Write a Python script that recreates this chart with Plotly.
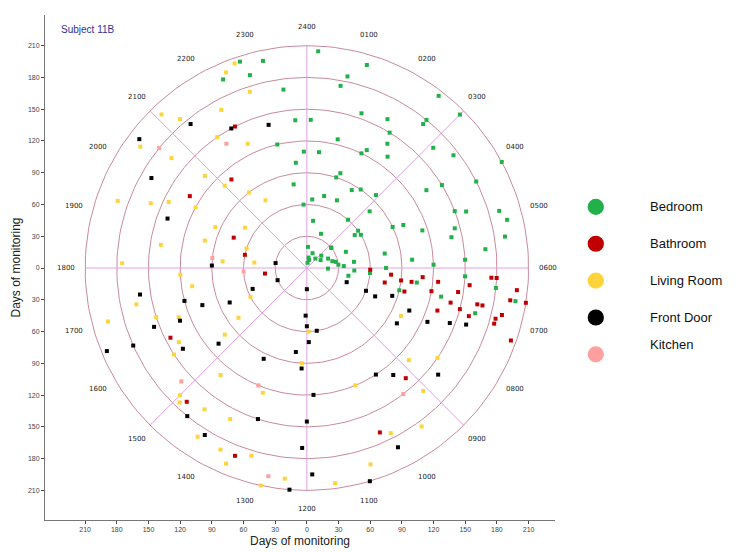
import numpy as np
import plotly.graph_objects as go

# activity readings: hour of day (0-24) and day of monitoring (radius)
bed_hour = [0.2,0.5,0.9,1.3,1.7,2.1,2.6,3.0,3.4,3.9,4.3,4.8,5.2,5.6,0.4,1.1,1.9,2.4,3.2,3.7,4.5,5.0,5.4,5.8,
            0.3,0.8,1.5,2.2,2.9,3.5,4.1,4.7,5.3,5.9,0.6,1.2,1.8,2.7,3.3,4.0,4.6,5.1,5.7,0.1,0.7,1.4,2.0,2.5,
            3.1,3.8,4.4,4.9,5.5,6.1,6.3,6.5,6.2,6.4,6.6,6.8,7.0,6.9,6.7,23.5,23.7,23.2,23.9,22.9,23.4,23.8,
            0.9,1.6,2.3,3.6,4.2,5.0,5.6,0.5,1.0,2.8,3.3,4.4,5.2,5.8,6.0,6.2,0.2,1.3,2.6,3.9,22.4,22.8,23.1,23.6]
bed_day = [20,45,70,95,120,150,180,205,30,60,90,115,140,170,110,200,160,130,80,55,40,25,190,150,
           65,185,35,140,95,175,210,160,75,120,10,90,125,60,30,15,150,195,100,140,175,15,85,205,
           165,135,100,190,45,20,60,105,150,180,200,130,165,90,40,170,140,200,110,190,80,60,
           125,70,90,60,180,145,30,5,8,12,18,22,28,35,75,45,205,155,175,150,195,205,120,100]
bath_hour = [6.1,6.3,6.5,6.7,6.9,7.1,6.2,6.4,6.6,6.8,7.0,7.2,6.3,6.5,6.7,6.9,6.4,6.6,6.8,7.0,7.3,6.2,6.6,
             7.1,6.9,6.4,20.1,19.5,18.8,21.3,16.2,14.8,13.4,17.5,22.2,9.2,10.4]
bath_day = [60,80,100,120,140,160,180,200,195,170,150,130,110,90,75,95,125,145,165,185,205,175,210,
            185,190,155,130,75,60,110,145,170,190,40,150,140,170]
living_hour = [22.5,22.1,21.7,21.3,20.8,20.4,19.9,19.5,19.0,18.6,22.8,21.5,20.2,19.2,18.3,17.4,16.6,15.8,
               15.0,14.2,13.5,12.8,22.3,21.0,19.7,18.1,17.0,16.2,15.4,14.6,13.8,13.1,12.4,21.9,20.6,19.3,
               17.8,16.8,15.6,14.4,13.3,12.2,22.7,21.1,19.6,18.4,17.2,16.0,14.9,13.7,8.3,9.1,10.2,10.8,
               11.5,9.6,8.8,10.5,11.9,7.8]
living_day = [200,170,150,185,130,195,120,160,100,140,175,90,70,60,80,110,130,150,170,190,200,210,130,
              110,145,175,195,60,100,130,160,185,200,75,165,190,120,150,80,165,125,90,205,200,95,50,
              165,140,175,190,150,160,175,195,205,185,130,120,60,100]
door_hour = [12.0,12.1,11.9,12.2,11.8,12.0,12.1,11.9,12.3,12.0,16.5,16.6,16.4,16.7,16.5,16.6,16.4,16.5,
             7.3,7.4,7.2,7.5,7.6,7.4,7.3,7.5,13.2,14.1,15.3,17.4,18.1,19.3,20.5,21.4,8.6,9.4,10.2,10.9,
             14.6,15.8,13.7,17.0,12.5,11.4,9.8,8.1,18.6,20.0,22.1,23.0]
door_day = [20,45,70,95,120,145,170,195,210,55,30,55,80,105,130,155,180,205,40,60,85,105,125,145,160,
            70,150,185,110,160,90,140,200,175,160,130,190,210,180,140,95,120,80,60,120,100,30,170,150,140]
kit_hour = [13.5,15.2,18.4,20.6,12.7,9.5,17.8,21.8]
kit_day = [120,160,90,180,200,150,60,140]

rooms = ["Bedroom", "Bathroom", "Living Room", "Front Door", "Kitchen"]
colors = ["#22b04b", "#c00000", "#ffd43b", "#000000", "#ff9f9f"]
hours = [bed_hour, bath_hour, living_hour, door_hour, kit_hour]
days = [bed_day, bath_day, living_day, door_day, kit_day]

ring_days = [30, 60, 90, 120, 150, 180, 210]
spoke_hours = [0, 3, 6, 9, 12, 15, 18, 21]
hour_labels = ["2400","0100","0200","0300","0400","0500","0600","0700","0800","0900","1000","1100",
               "1200","1300","1400","1500","1600","1700","1800","1900","2000","2100","2200","2300"]
tick_vals = [-210, -180, -150, -120, -90, -60, -30, 0, 30, 60, 90, 120, 150, 180, 210]

fig = go.Figure()

# rings and spokes of the polar grid
t = np.linspace(0, 2 * np.pi, 200)
for r in ring_days:
    fig.add_trace(go.Scatter(x=r * np.sin(t), y=r * np.cos(t), mode="lines",
                             line=dict(color="#c98a9a", width=1), hoverinfo="skip", showlegend=False))
for h in spoke_hours:
    a = h / 24 * 2 * np.pi
    fig.add_trace(go.Scatter(x=[0, 210 * np.sin(a)], y=[0, 210 * np.cos(a)], mode="lines",
                             line=dict(color="#e0a0e0", width=1), hoverinfo="skip", showlegend=False))

for name, c, hh, dd in zip(rooms, colors, hours, days):
    a = np.array(hh) / 24 * 2 * np.pi
    d = np.array(dd)
    fig.add_trace(go.Scatter(x=d * np.sin(a), y=d * np.cos(a), mode="markers", name=name,
                             marker=dict(color=c, size=4, symbol="square"), showlegend=False))

for i, lab in enumerate(hour_labels):
    a = i / 24 * 2 * np.pi
    fig.add_annotation(x=228 * np.sin(a), y=228 * np.cos(a), text=lab, showarrow=False,
                       font=dict(size=7, color="#222", family="DejaVu Sans"))

fig.add_annotation(x=-235, y=225, text="Subject 11B", showarrow=False, xanchor="left",
                   font=dict(size=10, color="#3030a0", family="Arial"))

# legend on the right (paper coords, outside the plot area)
for i, (name, c) in enumerate(zip(rooms, colors)):
    yy = 0.620 - i * 0.073
    fig.add_shape(type="circle", xref="paper", yref="paper", x0=1.064, x1=1.096,
                  y0=yy - 0.016, y1=yy + 0.016, fillcolor=c, line=dict(width=0))
    fig.add_annotation(xref="paper", yref="paper", x=1.182, y=yy, text=name, showarrow=False,
                       xanchor="left", font=dict(size=13, color="#111", family="Liberation Sans"))

axis_style = dict(tickvals=tick_vals, ticktext=[str(abs(v)) for v in tick_vals], showgrid=False,
                  zeroline=False, showline=True, linecolor="#777", ticks="outside", ticklen=3,
                  tickfont=dict(size=7, color="#444"), mirror=False, automargin=False)
fig.update_xaxes(range=[-248, 235], title=dict(text="Days of monitoring",
                 font=dict(size=12, color="#222"), standoff=4), **axis_style)
fig.update_yaxes(range=[-238, 239], title=dict(text="Days of monitoring",
                 font=dict(size=12, color="#222"), standoff=4), **axis_style)
fig.update_layout(width=744, height=552, margin=dict(l=37, r=197, t=7, b=40),
                  plot_bgcolor="white", paper_bgcolor="white", font=dict(family="Arial"))

fig.write_html("out.html")
